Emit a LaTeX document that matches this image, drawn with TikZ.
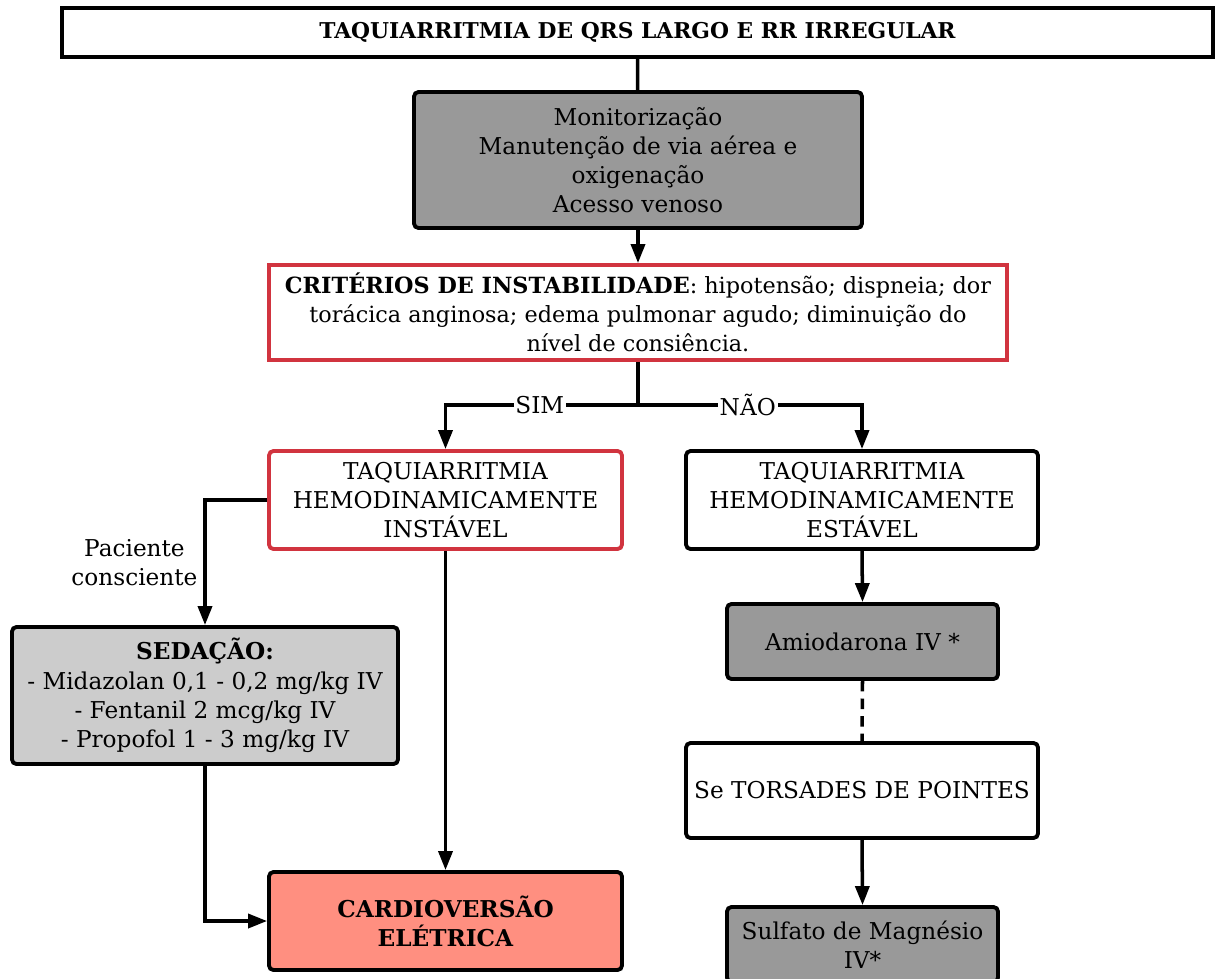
\documentclass[tikz,border=0pt]{standalone}
\usepackage{fontspec}
\setmainfont{DejaVu Serif}
\usepackage{xcolor}
\usepackage{tikz}
\usetikzlibrary{calc}
\usetikzlibrary{arrows.meta}
\definecolor{boxgray}{HTML}{999999}
\definecolor{lightgray}{HTML}{CCCCCC}
\definecolor{salmon}{HTML}{FF8F80}
\definecolor{alertred}{HTML}{D1343F}
\tikzset{
	box/.style={draw=black,line width=2.2pt,rounded corners=2.5pt,align=center,inner sep=0pt},
	redbox/.style={box,draw=alertred},
	link/.style={line width=2pt},
	arr/.style={link,-{Triangle[length=0.38cm,width=0.28cm]}},
	lbl/.style={fill=white,inner sep=1pt}
}

\begin{document}
\begin{tikzpicture}[x=0.02cm,y=-0.02cm,font=\fontsize{13.2}{16.6}\selectfont]
	\useasboundingbox (0,0) rectangle (1216,978);
	\node[box,rounded corners=0pt,minimum width=23.02cm,minimum height=0.98cm,font=\fontsize{12.4}{16}\selectfont] (title) at (637.5,32.5) {\textbf{TAQUIARRITMIA DE QRS LARGO E RR IRREGULAR}};
	\node[box,fill=boxgray,minimum width=8.96cm,minimum height=2.72cm] (mon) at (638,160) {Monitorização\\Manutenção de via aérea e\\oxigenação\\Acesso venoso};
	\node[redbox,rounded corners=0pt,minimum width=14.76cm,minimum height=1.9cm,font=\fontsize{12.7}{16.6}\selectfont] (crit) at (638,312.5) {\textbf{CRITÉRIOS DE INSTABILIDADE}: hipotensão; dispneia; dor\\torácica anginosa; edema pulmonar agudo; diminuição do\\nível de consiência.};
	\coordinate (split) at (638,405);
	\node[redbox,minimum width=7.06cm,minimum height=1.96cm] (inst) at (445.5,500) {TAQUIARRITMIA\\HEMODINAMICAMENTE\\INSTÁVEL};
	\node[box,minimum width=7.04cm,minimum height=1.96cm] (est) at (862,500) {TAQUIARRITMIA\\HEMODINAMICAMENTE\\ESTÁVEL};
	\node[box,fill=lightgray,minimum width=7.72cm,minimum height=2.74cm] (sed) at (205,695.5) {\textbf{SEDAÇÃO:}\\- Midazolan 0,1 - 0,2 mg/kg IV\\- Fentanil 2 mcg/kg IV\\- Propofol 1 - 3 mg/kg IV};
	\node[box,fill=salmon,minimum width=7.06cm,minimum height=1.96cm] (card) at (445.5,921) {\textbf{CARDIOVERSÃO}\\\textbf{ELÉTRICA}};
	\node[box,fill=boxgray,minimum width=5.42cm,minimum height=1.5cm] (amio) at (862.5,641.5) {Amiodarona IV *};
	\node[box,minimum width=7.04cm,minimum height=1.9cm] (tors) at (862,790.5) {Se TORSADES DE POINTES};
	\node[box,fill=boxgray,minimum width=5.42cm,minimum height=1.5cm] (sulf) at (862.5,944.5) {Sulfato de Magnésio\\IV*};
	% connectors
	\draw[link] (title) -- (mon);
	\draw[arr] (mon) -- (crit);
	\draw[link] (crit.south) -- (split);
	\draw[arr] (split) -| node[lbl,pos=0.255] {SIM} (inst.north);
	\draw[arr] (split) -| node[lbl,pos=0.245] {NÃO} (est.north);
	\draw[arr] (inst.west) -| node[pos=0.75,left,align=center] {Paciente\\consciente} (sed.north);
	\draw[arr] (sed.south) |- (card.west);
	\draw[arr] (inst.south) -- (card.north);
	\draw[arr] (est.south) -- (amio.north);
	\draw[link,dashed,dash pattern=on 6pt off 4pt] (amio.south) -- (tors.north);
	\draw[arr] (tors.south) -- (sulf.north);
\end{tikzpicture}
\end{document}
